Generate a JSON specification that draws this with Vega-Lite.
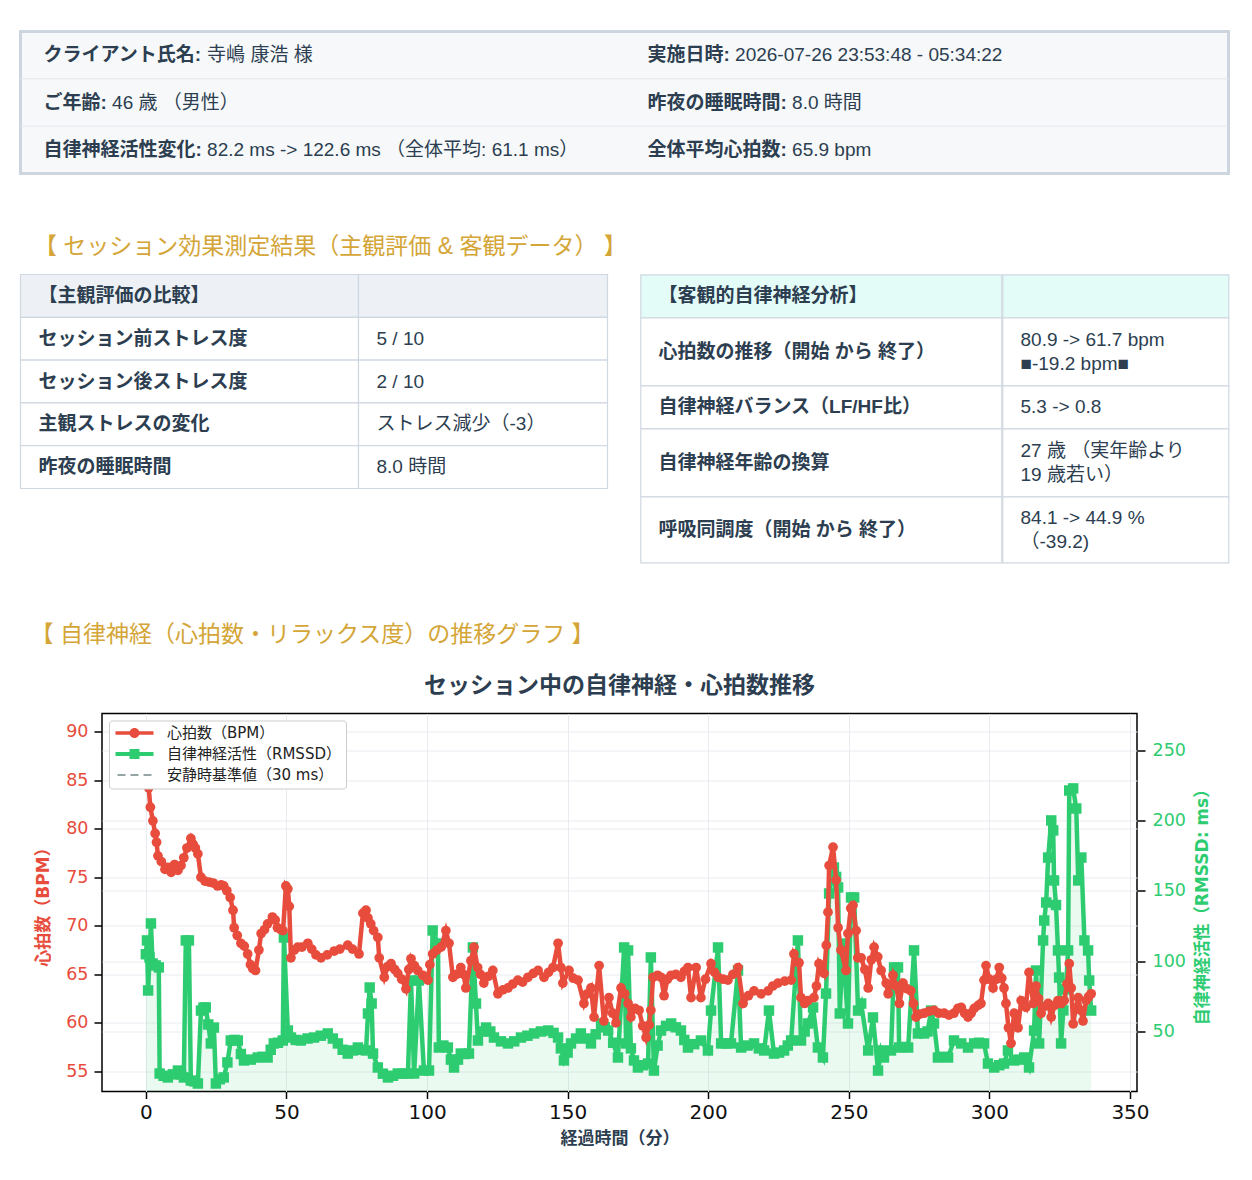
{
  "$schema": "https://vega.github.io/schema/vega-lite/v6.json",
  "background": "white",
  "padding": {"left": 18.5, "top": 29.5, "right": 0, "bottom": 0},
  "center": false,
  "spacing": 60,
  "resolve": {"scale": {"color": "independent"}, "legend": {"color": "independent"}},
  "config": {
    "font": "Liberation Sans, Noto Sans CJK JP",
    "view": {"stroke": null},
    "axis": {
      "labelFont": "DejaVu Sans, Noto Sans CJK JP",
      "titleFont": "DejaVu Sans, Noto Sans CJK JP"
    }
  },
  "datasets": {
    "hr": [
      {"t": 1.0, "hr": 84.2}, {"t": 1.6, "hr": 82.2}, {"t": 2.5, "hr": 80.8}, {"t": 3.3, "hr": 79.5},
      {"t": 3.8, "hr": 78.6}, {"t": 4.3, "hr": 77.2}, {"t": 5.5, "hr": 76.6}, {"t": 6.8, "hr": 75.8},
      {"t": 7.8, "hr": 76.0}, {"t": 9.0, "hr": 75.5}, {"t": 10.2, "hr": 76.3}, {"t": 11.4, "hr": 75.7},
      {"t": 12.5, "hr": 76.2}, {"t": 13.5, "hr": 77.0}, {"t": 14.6, "hr": 78.0}, {"t": 16.0, "hr": 79.0},
      {"t": 16.8, "hr": 78.4}, {"t": 17.6, "hr": 78.0}, {"t": 18.5, "hr": 77.4}, {"t": 19.6, "hr": 75.0},
      {"t": 21.0, "hr": 74.6}, {"t": 22.5, "hr": 74.5}, {"t": 24.0, "hr": 74.4}, {"t": 25.5, "hr": 74.1},
      {"t": 26.8, "hr": 74.2}, {"t": 27.7, "hr": 74.1}, {"t": 28.8, "hr": 73.6}, {"t": 30.0, "hr": 72.9},
      {"t": 31.0, "hr": 71.6}, {"t": 31.4, "hr": 69.8}, {"t": 32.5, "hr": 69.0}, {"t": 33.8, "hr": 68.2},
      {"t": 35.0, "hr": 67.9}, {"t": 36.2, "hr": 67.1}, {"t": 37.2, "hr": 66.0}, {"t": 38.0, "hr": 65.6},
      {"t": 39.0, "hr": 65.4}, {"t": 40.2, "hr": 67.5}, {"t": 41.0, "hr": 69.2}, {"t": 42.2, "hr": 69.6},
      {"t": 43.3, "hr": 70.2}, {"t": 45.0, "hr": 70.9}, {"t": 46.0, "hr": 70.6}, {"t": 46.8, "hr": 69.8},
      {"t": 48.0, "hr": 69.6}, {"t": 48.8, "hr": 69.5}, {"t": 49.8, "hr": 74.1}, {"t": 50.5, "hr": 73.8},
      {"t": 51.0, "hr": 72.0}, {"t": 51.6, "hr": 66.7}, {"t": 52.8, "hr": 67.5}, {"t": 54.0, "hr": 67.8},
      {"t": 55.5, "hr": 67.8}, {"t": 57.6, "hr": 68.2}, {"t": 59.0, "hr": 67.6}, {"t": 60.5, "hr": 67.0},
      {"t": 62.3, "hr": 66.7}, {"t": 64.5, "hr": 67.0}, {"t": 67.0, "hr": 67.4}, {"t": 69.0, "hr": 67.6},
      {"t": 71.8, "hr": 68.0}, {"t": 73.5, "hr": 67.6}, {"t": 75.8, "hr": 67.1}, {"t": 77.2, "hr": 71.3},
      {"t": 78.3, "hr": 71.6}, {"t": 79.0, "hr": 70.8}, {"t": 80.0, "hr": 70.2}, {"t": 81.0, "hr": 69.5},
      {"t": 82.5, "hr": 68.8}, {"t": 83.0, "hr": 66.7}, {"t": 84.8, "hr": 64.7}, {"t": 86.0, "hr": 65.8},
      {"t": 87.2, "hr": 66.1}, {"t": 88.5, "hr": 65.5}, {"t": 89.6, "hr": 65.1}, {"t": 91.0, "hr": 64.5},
      {"t": 92.5, "hr": 63.5}, {"t": 93.5, "hr": 65.5}, {"t": 94.3, "hr": 66.6}, {"t": 95.5, "hr": 65.9},
      {"t": 96.7, "hr": 65.4}, {"t": 98.5, "hr": 64.9}, {"t": 100.3, "hr": 64.4}, {"t": 101.0, "hr": 66.0},
      {"t": 102.0, "hr": 67.1}, {"t": 103.5, "hr": 67.5}, {"t": 105.0, "hr": 67.8}, {"t": 106.7, "hr": 69.5},
      {"t": 107.8, "hr": 68.2}, {"t": 109.2, "hr": 64.7}, {"t": 110.5, "hr": 65.0}, {"t": 112.0, "hr": 65.7},
      {"t": 113.0, "hr": 65.0}, {"t": 113.8, "hr": 63.6}, {"t": 115.6, "hr": 66.4}, {"t": 116.7, "hr": 67.8},
      {"t": 118.0, "hr": 65.7}, {"t": 119.0, "hr": 65.0}, {"t": 120.2, "hr": 64.1}, {"t": 121.8, "hr": 64.8},
      {"t": 123.4, "hr": 65.4}, {"t": 125.2, "hr": 63.0}, {"t": 127.0, "hr": 63.4}, {"t": 128.8, "hr": 63.6},
      {"t": 130.5, "hr": 64.0}, {"t": 132.3, "hr": 64.4}, {"t": 134.0, "hr": 64.2}, {"t": 135.9, "hr": 64.7},
      {"t": 137.8, "hr": 65.1}, {"t": 139.5, "hr": 65.4}, {"t": 141.6, "hr": 64.7}, {"t": 143.2, "hr": 65.2},
      {"t": 144.8, "hr": 65.7}, {"t": 146.6, "hr": 68.2}, {"t": 147.6, "hr": 65.7}, {"t": 148.3, "hr": 64.1},
      {"t": 150.5, "hr": 65.4}, {"t": 152.0, "hr": 64.6}, {"t": 153.7, "hr": 64.4}, {"t": 155.8, "hr": 62.0},
      {"t": 157.0, "hr": 63.0}, {"t": 158.3, "hr": 63.6}, {"t": 159.4, "hr": 60.6}, {"t": 161.2, "hr": 65.9},
      {"t": 162.9, "hr": 60.2}, {"t": 164.7, "hr": 62.6}, {"t": 166.0, "hr": 61.0}, {"t": 167.2, "hr": 60.0},
      {"t": 169.0, "hr": 63.6}, {"t": 170.3, "hr": 63.0}, {"t": 171.5, "hr": 62.0}, {"t": 172.5, "hr": 60.6},
      {"t": 174.0, "hr": 61.5}, {"t": 175.4, "hr": 61.3}, {"t": 176.7, "hr": 59.7}, {"t": 177.9, "hr": 58.5},
      {"t": 179.0, "hr": 59.8}, {"t": 179.6, "hr": 61.3}, {"t": 180.4, "hr": 64.7}, {"t": 182.0, "hr": 64.9},
      {"t": 183.2, "hr": 64.7}, {"t": 184.3, "hr": 62.8}, {"t": 185.5, "hr": 64.5}, {"t": 186.8, "hr": 64.9},
      {"t": 188.5, "hr": 65.0}, {"t": 190.3, "hr": 64.7}, {"t": 191.5, "hr": 65.3}, {"t": 192.8, "hr": 65.7},
      {"t": 193.9, "hr": 62.6}, {"t": 195.7, "hr": 65.7}, {"t": 197.4, "hr": 62.6}, {"t": 199.0, "hr": 64.5},
      {"t": 201.0, "hr": 66.1}, {"t": 202.3, "hr": 65.2}, {"t": 203.5, "hr": 64.7}, {"t": 205.3, "hr": 64.5},
      {"t": 207.0, "hr": 64.4}, {"t": 208.8, "hr": 65.0}, {"t": 210.6, "hr": 65.7}, {"t": 212.4, "hr": 62.0},
      {"t": 214.3, "hr": 62.8}, {"t": 216.3, "hr": 63.3}, {"t": 218.8, "hr": 63.0}, {"t": 221.3, "hr": 63.3},
      {"t": 223.0, "hr": 63.8}, {"t": 224.8, "hr": 64.1}, {"t": 227.2, "hr": 64.3}, {"t": 229.5, "hr": 64.4},
      {"t": 230.5, "hr": 67.1}, {"t": 232.3, "hr": 66.2}, {"t": 233.0, "hr": 62.6}, {"t": 234.3, "hr": 62.0},
      {"t": 235.5, "hr": 62.3}, {"t": 237.6, "hr": 62.6}, {"t": 238.5, "hr": 63.8}, {"t": 239.4, "hr": 66.1},
      {"t": 241.2, "hr": 65.1}, {"t": 242.0, "hr": 68.0}, {"t": 242.6, "hr": 71.4}, {"t": 243.0, "hr": 76.2},
      {"t": 244.4, "hr": 78.1}, {"t": 245.5, "hr": 74.7}, {"t": 246.2, "hr": 69.8}, {"t": 247.2, "hr": 67.5},
      {"t": 249.0, "hr": 65.4}, {"t": 249.7, "hr": 69.2}, {"t": 250.7, "hr": 71.8}, {"t": 251.5, "hr": 72.1},
      {"t": 252.6, "hr": 69.5}, {"t": 253.2, "hr": 66.7}, {"t": 254.4, "hr": 66.7}, {"t": 255.7, "hr": 65.5},
      {"t": 256.9, "hr": 63.6}, {"t": 258.0, "hr": 66.5}, {"t": 259.0, "hr": 67.8}, {"t": 260.3, "hr": 66.8},
      {"t": 261.5, "hr": 65.4}, {"t": 263.3, "hr": 64.1}, {"t": 264.0, "hr": 63.0}, {"t": 265.7, "hr": 64.9},
      {"t": 266.8, "hr": 63.8}, {"t": 268.0, "hr": 62.0}, {"t": 269.3, "hr": 64.1}, {"t": 270.8, "hr": 63.5},
      {"t": 272.1, "hr": 63.3}, {"t": 273.0, "hr": 62.0}, {"t": 273.9, "hr": 60.6}, {"t": 275.3, "hr": 60.9},
      {"t": 276.8, "hr": 61.0}, {"t": 278.5, "hr": 61.2}, {"t": 280.3, "hr": 61.3}, {"t": 282.0, "hr": 61.0},
      {"t": 283.9, "hr": 61.0}, {"t": 285.6, "hr": 60.8}, {"t": 287.4, "hr": 61.0}, {"t": 288.8, "hr": 61.5},
      {"t": 290.0, "hr": 61.6}, {"t": 291.2, "hr": 61.0}, {"t": 292.4, "hr": 60.6}, {"t": 293.5, "hr": 61.0},
      {"t": 294.6, "hr": 61.5}, {"t": 296.0, "hr": 61.8}, {"t": 297.0, "hr": 62.0}, {"t": 298.1, "hr": 64.4},
      {"t": 298.8, "hr": 65.9}, {"t": 300.0, "hr": 64.5}, {"t": 301.3, "hr": 63.6}, {"t": 302.5, "hr": 64.5},
      {"t": 303.5, "hr": 65.7}, {"t": 304.4, "hr": 64.6}, {"t": 305.2, "hr": 63.6}, {"t": 305.9, "hr": 62.0},
      {"t": 306.8, "hr": 59.5}, {"t": 307.7, "hr": 57.9}, {"t": 308.8, "hr": 61.0}, {"t": 310.2, "hr": 59.5},
      {"t": 311.3, "hr": 62.3}, {"t": 313.0, "hr": 61.6}, {"t": 314.1, "hr": 65.2}, {"t": 315.6, "hr": 62.0},
      {"t": 316.6, "hr": 63.8}, {"t": 317.5, "hr": 62.5}, {"t": 318.4, "hr": 61.0}, {"t": 319.6, "hr": 61.7},
      {"t": 320.9, "hr": 62.0}, {"t": 322.0, "hr": 60.6}, {"t": 323.2, "hr": 61.8}, {"t": 324.4, "hr": 62.3},
      {"t": 325.5, "hr": 62.0}, {"t": 326.6, "hr": 62.3}, {"t": 327.6, "hr": 64.0}, {"t": 328.4, "hr": 66.1},
      {"t": 329.1, "hr": 63.6}, {"t": 329.8, "hr": 59.9}, {"t": 330.7, "hr": 61.5}, {"t": 331.6, "hr": 62.6},
      {"t": 332.5, "hr": 61.3}, {"t": 333.3, "hr": 60.2}, {"t": 334.4, "hr": 62.3}, {"t": 335.3, "hr": 62.7},
      {"t": 336.2, "hr": 63.0}
    ],
    "rmssd": [
      {"t": 0.0, "rmssd": 105.0}, {"t": 0.4, "rmssd": 114.8}, {"t": 0.8, "rmssd": 79.2}, {"t": 1.3, "rmssd": 102.7},
      {"t": 1.8, "rmssd": 126.9}, {"t": 2.4, "rmssd": 98.4}, {"t": 3.5, "rmssd": 97.0}, {"t": 4.6, "rmssd": 95.6},
      {"t": 4.9, "rmssd": 20.1}, {"t": 6.3, "rmssd": 18.5}, {"t": 7.8, "rmssd": 17.3}, {"t": 9.6, "rmssd": 19.5},
      {"t": 11.4, "rmssd": 22.2}, {"t": 12.5, "rmssd": 19.5}, {"t": 13.5, "rmssd": 17.3}, {"t": 14.2, "rmssd": 114.8},
      {"t": 15.3, "rmssd": 114.8}, {"t": 16.0, "rmssd": 15.1}, {"t": 17.3, "rmssd": 14.5}, {"t": 18.5, "rmssd": 13.0},
      {"t": 19.6, "rmssd": 64.9}, {"t": 20.5, "rmssd": 67.0}, {"t": 21.3, "rmssd": 67.1}, {"t": 22.2, "rmssd": 55.0},
      {"t": 23.1, "rmssd": 41.5}, {"t": 24.2, "rmssd": 52.8}, {"t": 24.9, "rmssd": 13.0}, {"t": 26.3, "rmssd": 16.0},
      {"t": 27.7, "rmssd": 17.3}, {"t": 29.0, "rmssd": 28.0}, {"t": 30.2, "rmssd": 43.6}, {"t": 31.5, "rmssd": 44.0},
      {"t": 32.7, "rmssd": 43.6}, {"t": 33.8, "rmssd": 34.0}, {"t": 34.9, "rmssd": 29.4}, {"t": 37.3, "rmssd": 30.0},
      {"t": 39.8, "rmssd": 31.5}, {"t": 41.5, "rmssd": 32.0}, {"t": 43.3, "rmssd": 31.5}, {"t": 44.4, "rmssd": 37.0},
      {"t": 45.5, "rmssd": 41.5}, {"t": 47.0, "rmssd": 42.0}, {"t": 48.7, "rmssd": 43.6}, {"t": 49.1, "rmssd": 116.9},
      {"t": 50.5, "rmssd": 50.7}, {"t": 51.6, "rmssd": 45.7}, {"t": 53.3, "rmssd": 44.0}, {"t": 55.1, "rmssd": 43.6},
      {"t": 57.5, "rmssd": 45.0}, {"t": 59.8, "rmssd": 45.7}, {"t": 62.2, "rmssd": 47.0}, {"t": 64.7, "rmssd": 48.6},
      {"t": 66.5, "rmssd": 45.0}, {"t": 68.3, "rmssd": 41.5}, {"t": 70.0, "rmssd": 37.0}, {"t": 71.8, "rmssd": 34.3},
      {"t": 73.6, "rmssd": 36.5}, {"t": 75.4, "rmssd": 38.6}, {"t": 77.0, "rmssd": 37.0}, {"t": 78.3, "rmssd": 36.5},
      {"t": 79.0, "rmssd": 62.8}, {"t": 79.6, "rmssd": 81.3}, {"t": 80.3, "rmssd": 69.9}, {"t": 80.8, "rmssd": 34.3},
      {"t": 82.5, "rmssd": 24.4}, {"t": 84.3, "rmssd": 20.0}, {"t": 86.1, "rmssd": 17.3}, {"t": 87.9, "rmssd": 18.5},
      {"t": 89.6, "rmssd": 20.1}, {"t": 91.4, "rmssd": 20.0}, {"t": 93.2, "rmssd": 20.1}, {"t": 94.3, "rmssd": 86.3},
      {"t": 95.4, "rmssd": 20.1}, {"t": 97.1, "rmssd": 86.3}, {"t": 98.9, "rmssd": 22.2}, {"t": 100.7, "rmssd": 22.2},
      {"t": 102.0, "rmssd": 121.9}, {"t": 103.9, "rmssd": 112.6}, {"t": 104.2, "rmssd": 38.6}, {"t": 105.8, "rmssd": 40.0},
      {"t": 107.4, "rmssd": 38.6}, {"t": 108.5, "rmssd": 30.0}, {"t": 109.6, "rmssd": 24.4}, {"t": 111.0, "rmssd": 30.0},
      {"t": 112.0, "rmssd": 34.3}, {"t": 113.5, "rmssd": 34.0}, {"t": 114.9, "rmssd": 34.3}, {"t": 116.3, "rmssd": 109.8},
      {"t": 117.4, "rmssd": 69.9}, {"t": 118.1, "rmssd": 43.6}, {"t": 119.5, "rmssd": 50.0}, {"t": 121.0, "rmssd": 52.8},
      {"t": 122.5, "rmssd": 50.0}, {"t": 123.8, "rmssd": 45.7}, {"t": 126.3, "rmssd": 43.0}, {"t": 128.8, "rmssd": 41.5},
      {"t": 131.0, "rmssd": 43.0}, {"t": 133.4, "rmssd": 45.7}, {"t": 135.7, "rmssd": 47.0}, {"t": 138.1, "rmssd": 48.6},
      {"t": 140.5, "rmssd": 50.0}, {"t": 143.1, "rmssd": 50.7}, {"t": 145.0, "rmssd": 49.0}, {"t": 146.6, "rmssd": 45.7},
      {"t": 147.6, "rmssd": 38.0}, {"t": 148.7, "rmssd": 29.4}, {"t": 150.0, "rmssd": 35.0}, {"t": 151.2, "rmssd": 41.5},
      {"t": 153.0, "rmssd": 45.0}, {"t": 154.7, "rmssd": 48.6}, {"t": 156.5, "rmssd": 45.0}, {"t": 158.3, "rmssd": 41.5},
      {"t": 160.0, "rmssd": 48.0}, {"t": 161.9, "rmssd": 55.7}, {"t": 163.2, "rmssd": 53.0}, {"t": 164.4, "rmssd": 50.7},
      {"t": 166.2, "rmssd": 42.0}, {"t": 167.9, "rmssd": 31.5}, {"t": 170.1, "rmssd": 109.8}, {"t": 170.8, "rmssd": 41.5},
      {"t": 171.5, "rmssd": 107.7}, {"t": 172.5, "rmssd": 38.0}, {"t": 173.6, "rmssd": 29.4}, {"t": 175.0, "rmssd": 24.4},
      {"t": 176.8, "rmssd": 26.0}, {"t": 178.6, "rmssd": 27.2}, {"t": 179.6, "rmssd": 102.7}, {"t": 180.7, "rmssd": 22.2},
      {"t": 182.0, "rmssd": 40.0}, {"t": 183.2, "rmssd": 50.7}, {"t": 185.0, "rmssd": 54.0}, {"t": 186.8, "rmssd": 55.7},
      {"t": 188.5, "rmssd": 53.0}, {"t": 190.3, "rmssd": 50.7}, {"t": 191.5, "rmssd": 44.0}, {"t": 192.8, "rmssd": 38.6},
      {"t": 195.0, "rmssd": 41.0}, {"t": 197.4, "rmssd": 43.6}, {"t": 199.9, "rmssd": 36.5}, {"t": 201.0, "rmssd": 64.9},
      {"t": 203.5, "rmssd": 109.8}, {"t": 204.6, "rmssd": 41.5}, {"t": 206.4, "rmssd": 41.5}, {"t": 208.1, "rmssd": 41.5},
      {"t": 210.6, "rmssd": 93.4}, {"t": 211.7, "rmssd": 38.6}, {"t": 214.0, "rmssd": 40.0}, {"t": 216.3, "rmssd": 41.5},
      {"t": 218.0, "rmssd": 38.0}, {"t": 219.9, "rmssd": 36.5}, {"t": 221.6, "rmssd": 64.9}, {"t": 223.4, "rmssd": 34.3},
      {"t": 225.2, "rmssd": 35.0}, {"t": 227.0, "rmssd": 36.5}, {"t": 228.3, "rmssd": 40.0}, {"t": 229.5, "rmssd": 43.6},
      {"t": 231.9, "rmssd": 114.8}, {"t": 233.0, "rmssd": 43.6}, {"t": 234.3, "rmssd": 50.0}, {"t": 235.5, "rmssd": 55.7},
      {"t": 237.3, "rmssd": 67.1}, {"t": 239.0, "rmssd": 38.6}, {"t": 240.8, "rmssd": 31.5}, {"t": 241.9, "rmssd": 77.0},
      {"t": 243.0, "rmssd": 148.2}, {"t": 244.7, "rmssd": 166.7}, {"t": 245.5, "rmssd": 160.0}, {"t": 246.2, "rmssd": 152.5},
      {"t": 246.8, "rmssd": 62.8}, {"t": 247.9, "rmssd": 112.6}, {"t": 249.7, "rmssd": 55.7}, {"t": 250.8, "rmssd": 145.4},
      {"t": 251.9, "rmssd": 145.4}, {"t": 253.3, "rmssd": 64.9}, {"t": 254.4, "rmssd": 69.9}, {"t": 256.9, "rmssd": 36.5},
      {"t": 258.6, "rmssd": 60.0}, {"t": 260.4, "rmssd": 22.2}, {"t": 261.5, "rmssd": 36.5}, {"t": 262.5, "rmssd": 31.5},
      {"t": 265.0, "rmssd": 36.5}, {"t": 266.1, "rmssd": 95.6}, {"t": 267.5, "rmssd": 95.6}, {"t": 267.9, "rmssd": 38.6},
      {"t": 269.5, "rmssd": 39.0}, {"t": 271.1, "rmssd": 38.6}, {"t": 273.2, "rmssd": 107.7}, {"t": 274.6, "rmssd": 48.6},
      {"t": 276.8, "rmssd": 48.6}, {"t": 278.0, "rmssd": 50.0}, {"t": 279.3, "rmssd": 64.9}, {"t": 280.3, "rmssd": 55.7},
      {"t": 281.7, "rmssd": 31.5}, {"t": 283.5, "rmssd": 32.0}, {"t": 285.3, "rmssd": 31.5}, {"t": 287.4, "rmssd": 43.6},
      {"t": 290.0, "rmssd": 41.5}, {"t": 292.4, "rmssd": 38.6}, {"t": 294.6, "rmssd": 41.5}, {"t": 296.3, "rmssd": 42.0},
      {"t": 298.1, "rmssd": 41.5}, {"t": 299.5, "rmssd": 27.2}, {"t": 301.7, "rmssd": 24.4}, {"t": 303.5, "rmssd": 26.0},
      {"t": 305.2, "rmssd": 27.2}, {"t": 306.6, "rmssd": 36.5}, {"t": 308.8, "rmssd": 29.4}, {"t": 310.5, "rmssd": 30.0},
      {"t": 312.4, "rmssd": 31.5}, {"t": 314.1, "rmssd": 24.4}, {"t": 315.9, "rmssd": 50.7}, {"t": 316.6, "rmssd": 93.4},
      {"t": 317.7, "rmssd": 41.5}, {"t": 319.1, "rmssd": 114.8}, {"t": 319.5, "rmssd": 129.0}, {"t": 320.2, "rmssd": 141.8},
      {"t": 320.9, "rmssd": 173.8}, {"t": 322.0, "rmssd": 200.2}, {"t": 322.7, "rmssd": 193.1}, {"t": 323.0, "rmssd": 157.5},
      {"t": 323.7, "rmssd": 140.0}, {"t": 324.4, "rmssd": 107.7}, {"t": 324.8, "rmssd": 88.4}, {"t": 325.5, "rmssd": 41.5},
      {"t": 326.3, "rmssd": 65.0}, {"t": 327.2, "rmssd": 80.0}, {"t": 328.0, "rmssd": 107.7}, {"t": 328.4, "rmssd": 221.5},
      {"t": 329.8, "rmssd": 223.0}, {"t": 330.9, "rmssd": 208.7}, {"t": 331.6, "rmssd": 157.5}, {"t": 332.7, "rmssd": 173.8},
      {"t": 333.8, "rmssd": 114.8}, {"t": 335.1, "rmssd": 107.7}, {"t": 335.5, "rmssd": 86.3}, {"t": 336.2, "rmssd": 64.9}
    ]
  },
  "vconcat": [
    {
      "width": 1208,
      "height": 142,
      "view": {"fill": "#f6f8fa", "stroke": "#cdd5df", "strokeWidth": 3},
      "data": {
        "values": [
          {"col": "L", "row": 1, "key": "クライアント氏名:", "value": "寺嶋 康浩 様"},
          {"col": "R", "row": 1, "key": "実施日時:", "value": "2026-07-26 23:53:48 - 05:34:22"},
          {"col": "L", "row": 2, "key": "ご年齢:", "value": "46 歳 （男性）"},
          {"col": "R", "row": 2, "key": "昨夜の睡眠時間:", "value": "8.0 時間"},
          {"col": "L", "row": 3, "key": "自律神経活性変化:", "value": "82.2 ms -> 122.6 ms （全体平均: 61.1 ms）"},
          {"col": "R", "row": 3, "key": "全体平均心拍数:", "value": "65.9 bpm"}
        ]
      },
      "layer": [
        {
          "transform": [{"filter": "datum.row > 1 && datum.col === 'L'"}],
          "mark": {"type": "rule", "color": "#e2e7ed", "strokeWidth": 1},
          "encoding": {
            "y": {"field": "row", "type": "ordinal", "bandPosition": 0, "axis": null,
                  "scale": {"domain": [1, 2, 3], "paddingInner": 0, "paddingOuter": 0}}
          }
        },
        {
          "mark": {"type": "text", "align": "left", "baseline": "middle", "dx": 23, "fontSize": 19, "fontWeight": "bold", "color": "#2c3e50"},
          "encoding": {
            "x": {"field": "col", "type": "nominal", "axis": null,
                  "scale": {"type": "point", "domain": ["L", "R", "E"], "padding": 0}},
            "y": {"field": "row", "type": "ordinal", "axis": null},
            "text": {"field": "key"}
          }
        },
        {
          "mark": {"type": "text", "align": "left", "baseline": "middle", "fontSize": 19, "color": "#2c3e50",
                   "dx": {"expr": "23 + (length(datum.key) - 1) * 19 + 11.6"}},
          "encoding": {
            "x": {"field": "col", "type": "nominal", "axis": null},
            "y": {"field": "row", "type": "ordinal", "axis": null},
            "text": {"field": "value"}
          }
        }
      ]
    },
    {
      "title": {
        "text": "【 セッション効果測定結果（主観評価 & 客観データ） 】",
        "anchor": "start", "font": "Liberation Sans, Noto Sans CJK JP", "fontSize": 23, "fontWeight": "normal",
        "color": "#d4a537", "offset": 15, "dx": 14
      },
      "spacing": 31,
      "hconcat": [
        {
          "bounds": "flush",
          "spacing": 0,
          "hconcat": [
            {
              "width": 338,
              "height": 214,
              "data": {
                "values": [
                  {"row": 0, "text": "【主観評価の比較】"},
                  {"row": 1, "text": "セッション前ストレス度"},
                  {"row": 2, "text": "セッション後ストレス度"},
                  {"row": 3, "text": "主観ストレスの変化"},
                  {"row": 4, "text": "昨夜の睡眠時間"}
                ]
              },
              "encoding": {
                "y": {"field": "row", "type": "ordinal", "axis": null, "scale": {"paddingInner": 0, "paddingOuter": 0}}
              },
              "layer": [
                {
                  "mark": {"type": "rect", "stroke": "#d0d8e2", "strokeWidth": 1.2},
                  "encoding": {"fill": {"condition": {"test": "datum.row === 0", "value": "#edf1f5"}, "value": "#ffffff"}}
                },
                {
                  "mark": {"type": "text", "align": "left", "baseline": "middle", "dx": 18, "fontSize": 19, "fontWeight": "bold", "color": "#2c3e50"},
                  "encoding": {
                    "x": {"datum": 0, "type": "quantitative", "scale": {"domain": [0, 1]}, "axis": null},
                    "text": {"field": "text"}
                  }
                }
              ]
            },
            {
              "width": 249,
              "height": 214,
              "data": {
                "values": [
                  {"row": 0, "text": ""},
                  {"row": 1, "text": "5 / 10"},
                  {"row": 2, "text": "2 / 10"},
                  {"row": 3, "text": "ストレス減少（-3）"},
                  {"row": 4, "text": "8.0 時間"}
                ]
              },
              "encoding": {
                "y": {"field": "row", "type": "ordinal", "axis": null, "scale": {"paddingInner": 0, "paddingOuter": 0}}
              },
              "layer": [
                {
                  "mark": {"type": "rect", "stroke": "#d0d8e2", "strokeWidth": 1.2},
                  "encoding": {"fill": {"condition": {"test": "datum.row === 0", "value": "#edf1f5"}, "value": "#ffffff"}}
                },
                {
                  "mark": {"type": "text", "align": "left", "baseline": "middle", "dx": 18, "fontSize": 19, "color": "#2c3e50"},
                  "encoding": {
                    "x": {"datum": 0, "type": "quantitative", "scale": {"domain": [0, 1]}, "axis": null},
                    "text": {"field": "text"}
                  }
                }
              ]
            }
          ]
        },
        {
          "spacing": -1.2,
          "hconcat": [
            {
              "bounds": "flush",
              "spacing": 0,
              "vconcat": [
                {
                  "width": 361, "height": 43,
                  "view": {"fill": "#e3fcf8", "stroke": "#d0d8e2", "strokeWidth": 1.2},
                  "data": {"values": [{"text": "【客観的自律神経分析】"}]},
                  "mark": {"type": "text", "align": "left", "baseline": "middle", "dx": 18, "fontSize": 19, "fontWeight": "bold", "color": "#2c3e50"},
                  "encoding": {"x": {"datum": 0, "type": "quantitative", "scale": {"domain": [0, 1]}, "axis": null}, "text": {"field": "text"}}
                },
                {
                  "width": 361, "height": 68,
                  "view": {"fill": "#ffffff", "stroke": "#d0d8e2", "strokeWidth": 1.2},
                  "data": {"values": [{"text": "心拍数の推移（開始 から 終了）"}]},
                  "mark": {"type": "text", "align": "left", "baseline": "middle", "dx": 18, "fontSize": 19, "fontWeight": "bold", "color": "#2c3e50"},
                  "encoding": {"x": {"datum": 0, "type": "quantitative", "scale": {"domain": [0, 1]}, "axis": null}, "text": {"field": "text"}}
                },
                {
                  "width": 361, "height": 43,
                  "view": {"fill": "#ffffff", "stroke": "#d0d8e2", "strokeWidth": 1.2},
                  "data": {"values": [{"text": "自律神経バランス（LF/HF比）"}]},
                  "mark": {"type": "text", "align": "left", "baseline": "middle", "dx": 18, "fontSize": 19, "fontWeight": "bold", "color": "#2c3e50"},
                  "encoding": {"x": {"datum": 0, "type": "quantitative", "scale": {"domain": [0, 1]}, "axis": null}, "text": {"field": "text"}}
                },
                {
                  "width": 361, "height": 68,
                  "view": {"fill": "#ffffff", "stroke": "#d0d8e2", "strokeWidth": 1.2},
                  "data": {"values": [{"text": "自律神経年齢の換算"}]},
                  "mark": {"type": "text", "align": "left", "baseline": "middle", "dx": 18, "fontSize": 19, "fontWeight": "bold", "color": "#2c3e50"},
                  "encoding": {"x": {"datum": 0, "type": "quantitative", "scale": {"domain": [0, 1]}, "axis": null}, "text": {"field": "text"}}
                },
                {
                  "width": 361, "height": 66,
                  "view": {"fill": "#ffffff", "stroke": "#d0d8e2", "strokeWidth": 1.2},
                  "data": {"values": [{"text": "呼吸同調度（開始 から 終了）"}]},
                  "mark": {"type": "text", "align": "left", "baseline": "middle", "dx": 18, "fontSize": 19, "fontWeight": "bold", "color": "#2c3e50"},
                  "encoding": {"x": {"datum": 0, "type": "quantitative", "scale": {"domain": [0, 1]}, "axis": null}, "text": {"field": "text"}}
                }
              ]
            },
            {
              "bounds": "flush",
              "spacing": 0,
              "vconcat": [
                {
                  "width": 226, "height": 43,
                  "view": {"fill": "#e3fcf8", "stroke": "#d0d8e2", "strokeWidth": 1.2},
                  "data": {"values": [{"text": ""}]},
                  "mark": {"type": "text", "align": "left", "baseline": "middle", "dx": 18, "fontSize": 19, "color": "#2c3e50"},
                  "encoding": {"x": {"datum": 0, "type": "quantitative", "scale": {"domain": [0, 1]}, "axis": null}, "text": {"field": "text"}}
                },
                {
                  "width": 226, "height": 68,
                  "view": {"fill": "#ffffff", "stroke": "#d0d8e2", "strokeWidth": 1.2},
                  "data": {"values": [{"text": ["80.9 -> 61.7 bpm", "■-19.2 bpm■"]}]},
                  "mark": {"type": "text", "align": "left", "baseline": "middle", "dx": 18, "dy": -12, "fontSize": 19, "lineHeight": 24, "color": "#2c3e50"},
                  "encoding": {"x": {"datum": 0, "type": "quantitative", "scale": {"domain": [0, 1]}, "axis": null}, "text": {"field": "text"}}
                },
                {
                  "width": 226, "height": 43,
                  "view": {"fill": "#ffffff", "stroke": "#d0d8e2", "strokeWidth": 1.2},
                  "data": {"values": [{"text": "5.3 -> 0.8"}]},
                  "mark": {"type": "text", "align": "left", "baseline": "middle", "dx": 18, "fontSize": 19, "color": "#2c3e50"},
                  "encoding": {"x": {"datum": 0, "type": "quantitative", "scale": {"domain": [0, 1]}, "axis": null}, "text": {"field": "text"}}
                },
                {
                  "width": 226, "height": 68,
                  "view": {"fill": "#ffffff", "stroke": "#d0d8e2", "strokeWidth": 1.2},
                  "data": {"values": [{"text": ["27 歳 （実年齢より", "19 歳若い）"]}]},
                  "mark": {"type": "text", "align": "left", "baseline": "middle", "dx": 18, "dy": -12, "fontSize": 19, "lineHeight": 24, "color": "#2c3e50"},
                  "encoding": {"x": {"datum": 0, "type": "quantitative", "scale": {"domain": [0, 1]}, "axis": null}, "text": {"field": "text"}}
                },
                {
                  "width": 226, "height": 66,
                  "view": {"fill": "#ffffff", "stroke": "#d0d8e2", "strokeWidth": 1.2},
                  "data": {"values": [{"text": ["84.1 -> 44.9 %", "（-39.2)"]}]},
                  "mark": {"type": "text", "align": "left", "baseline": "middle", "dx": 18, "dy": -12, "fontSize": 19, "lineHeight": 24, "color": "#2c3e50"},
                  "encoding": {"x": {"datum": 0, "type": "quantitative", "scale": {"domain": [0, 1]}, "axis": null}, "text": {"field": "text"}}
                }
              ]
            }
          ]
        }
      ]
    },
    {
      "title": {
        "text": "【 自律神経（心拍数・リラックス度）の推移グラフ 】",
        "anchor": "start", "font": "Liberation Sans, Noto Sans CJK JP", "fontSize": 23, "fontWeight": "normal",
        "color": "#d4a537", "offset": 27, "dx": 10
      },
      "resolve": {"scale": {"color": "independent"}, "legend": {"color": "independent"}},
      "spacing": 11.5,
      "hconcat": [
        {
          "width": 1,
          "height": 1,
          "data": {"values": [{"note": "余白"}]},
          "mark": {"type": "text", "text": ""}
        },
        {
          "width": 1035,
          "height": 378,
          "title": {
            "text": "セッション中の自律神経・心拍数推移",
            "font": "Noto Sans CJK JP", "fontSize": 23, "fontWeight": "bold", "color": "#2c3e50", "offset": 16
          },
          "view": {"stroke": "#000000", "strokeWidth": 1.5},
          "layer": [
            {
              "data": {"name": "rmssd"},
              "encoding": {
                "y": {
                  "field": "rmssd", "type": "quantitative",
                  "scale": {"domain": [7.3, 276.3], "nice": false, "zero": false},
                  "axis": {
                    "orient": "right", "values": [50, 100, 150, 200, 250],
                    "title": "自律神経活性（RMSSD: ms）", "titleColor": "#2ecc71", "titleFontSize": 17,
                    "titleFontWeight": "bold", "titleAngle": 270, "titleBaseline": "top", "titlePadding": 9,
                    "labelColor": "#2ecc71", "labelFontSize": 17.5, "labelPadding": 7, "labelFlush": false,
                    "tickColor": "#000000", "tickSize": 8, "tickWidth": 1.5, "domain": false,
                    "grid": true, "gridColor": "#e8ecf1"
                  }
                }
              },
              "layer": [
                {
                  "mark": {"type": "area", "color": "#2ecc71", "opacity": 0.1, "clip": true},
                  "encoding": {
                    "x": {
                      "field": "t", "type": "quantitative",
                      "scale": {"domain": [-15.6, 352.5], "nice": false, "zero": false},
                      "axis": {
                        "values": [0, 50, 100, 150, 200, 250, 300, 350],
                        "title": "経過時間（分）", "titleFontSize": 17, "titleFontWeight": "bold",
                        "titleColor": "#2c3e50", "titlePadding": 8,
                        "labelFontSize": 20, "labelColor": "#111111", "labelPadding": 4, "labelFlush": false,
                        "tickColor": "#000000", "tickSize": 7, "tickWidth": 1.5, "domain": false,
                        "grid": true, "gridColor": "#e8ecf1"
                      }
                    }
                  }
                },
                {
                  "mark": {"type": "line", "strokeWidth": 4.5, "point": {"shape": "square", "size": 110, "filled": true}},
                  "encoding": {
                    "x": {"field": "t", "type": "quantitative"},
                    "color": {"datum": "自律神経活性（RMSSD）", "type": "nominal"}
                  }
                },
                {
                  "data": {"values": [{"level": "安静時基準値"}]},
                  "mark": {"type": "rule", "strokeDash": [7, 4], "strokeWidth": 2},
                  "encoding": {
                    "y": {"datum": 30, "type": "quantitative"},
                    "color": {"datum": "安静時基準値（30 ms）", "type": "nominal"}
                  }
                }
              ]
            },
            {
              "data": {"name": "hr"},
              "mark": {"type": "line", "strokeWidth": 4.5, "point": {"filled": true, "size": 95}},
              "encoding": {
                "x": {"field": "t", "type": "quantitative"},
                "y": {
                  "field": "hr", "type": "quantitative",
                  "scale": {"domain": [52.94, 91.85], "nice": false, "zero": false},
                  "axis": {
                    "orient": "left", "values": [55, 60, 65, 70, 75, 80, 85, 90],
                    "title": "心拍数（BPM）", "titleColor": "#e74c3c", "titleFontSize": 17,
                    "titleFontWeight": "bold", "titlePadding": 13,
                    "labelColor": "#e74c3c", "labelFontSize": 17.5, "labelPadding": 6, "labelFlush": false,
                    "tickColor": "#000000", "tickSize": 8, "tickWidth": 1.5, "domain": false,
                    "grid": true, "gridColor": "#e8ecf1"
                  }
                },
                "color": {
                  "datum": "心拍数（BPM）", "type": "nominal",
                  "scale": {
                    "domain": ["心拍数（BPM）", "自律神経活性（RMSSD）", "安静時基準値（30 ms）"],
                    "range": ["#e74c3c", "#2ecc71", "#95a5a6"]
                  },
                  "legend": {
                    "title": null, "orient": "top-left", "offset": 7,
                    "fillColor": "#ffffff", "strokeColor": "#cccccc", "cornerRadius": 3, "padding": 5,
                    "labelFont": "DejaVu Sans, Noto Sans CJK JP", "labelFontSize": 15, "labelColor": "#222222",
                    "labelLimit": 400,
                    "symbolSize": 100, "symbolOffset": 13, "labelOffset": 25, "rowPadding": 5,
                    "encode": {
                      "symbols": {
                        "update": {
                          "shape": {"signal": "datum.value === '心拍数（BPM）' ? 'M-3.8,-0.35H3.8V0.35H-3.8Z M1,0A1,1 0 1,1 -1,0A1,1 0 1,1 1,0Z' : datum.value === '自律神経活性（RMSSD）' ? 'M-3.8,-0.4H3.8V0.4H-3.8Z M-1,-1H1V1H-1Z' : 'M-3.4,-0.2H-1.8V0.2H-3.4Z M-0.8,-0.2H0.8V0.2H-0.8Z M1.8,-0.2H3.4V0.2H1.8Z'"},
                          "fill": {"signal": "datum.value === '心拍数（BPM）' ? '#e74c3c' : datum.value === '自律神経活性（RMSSD）' ? '#2ecc71' : '#95a5a6'"},
                          "stroke": {"value": "transparent"},
                          "strokeWidth": {"value": 0},
                          "size": {"value": 100},
                          "opacity": {"value": 1}
                        }
                      }
                    }
                  }
                }
              }
            }
          ],
          "resolve": {"scale": {"y": "independent"}}
        }
      ]
    }
  ]
}
